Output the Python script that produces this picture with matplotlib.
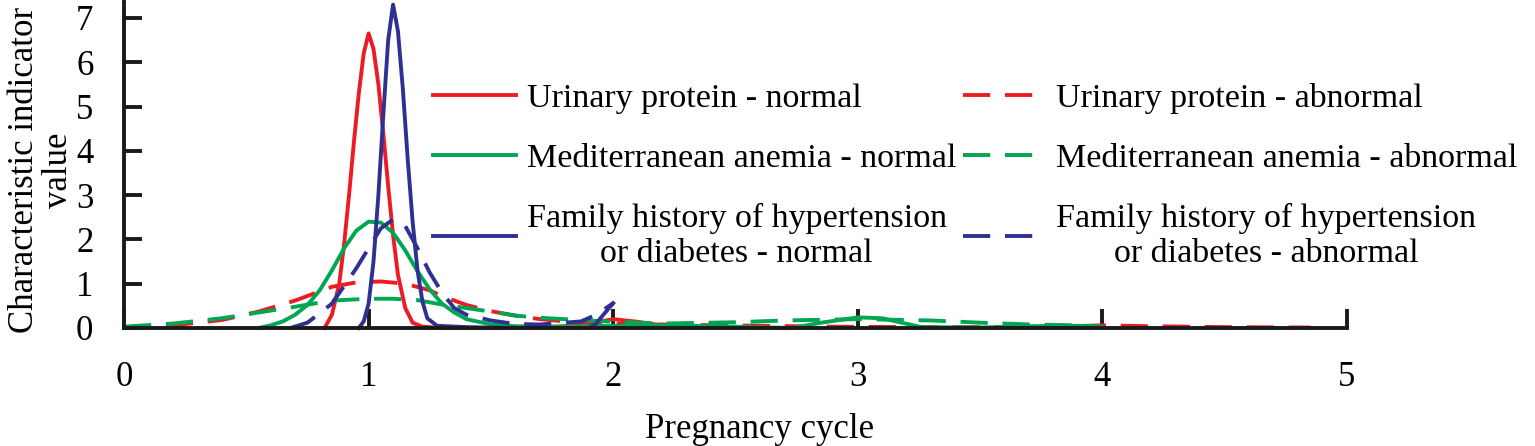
import matplotlib
matplotlib.use("Agg")
import matplotlib.pyplot as plt

plt.rcParams['font.family'] = ['Liberation Serif', 'DejaVu Serif']

x_label = "Pregnancy cycle"
y_label = "Characteristic indicator\nvalue"
x_ticks = [0, 1, 2, 3, 4, 5]
y_ticks = [0, 1, 2, 3, 4, 5, 6, 7]

labels = [
    "Urinary protein - normal",
    "Urinary protein - abnormal",
    "Mediterranean anemia - normal",
    "Mediterranean anemia - abnormal",
    "Family history of hypertension\nor diabetes - normal",
    "Family history of hypertension\nor diabetes - abnormal",
]

# Urinary protein - normal (red solid)
up_n_x = [0.82, 0.85, 0.88, 0.90, 0.92, 0.94, 0.96, 0.98, 1.00, 1.02, 1.04, 1.06, 1.08, 1.10,
          1.12, 1.15, 1.18, 1.22, 1.30, 1.50, 1.70, 1.80, 1.90, 2.00, 2.10, 2.20, 2.30]
up_n_y = [0.00, 0.30, 1.00, 1.90, 3.00, 4.20, 5.30, 6.20, 6.65, 6.30, 5.50, 4.40, 3.20, 2.10,
          1.20, 0.45, 0.12, 0.03, 0.00, 0.00, 0.01, 0.04, 0.10, 0.20, 0.14, 0.06, 0.03]

# Urinary protein - abnormal (red dashed)
up_a_x = [0.00, 0.20, 0.40, 0.55, 0.70, 0.85, 0.95, 1.05, 1.15, 1.25, 1.30, 1.40, 1.50, 1.60,
          1.70, 1.80, 1.90, 2.00, 2.30, 2.60, 2.90, 3.20, 3.50, 3.80, 4.00, 4.20, 4.50, 4.85]
up_a_y = [0.00, 0.06, 0.18, 0.37, 0.62, 0.93, 1.03, 1.05, 1.00, 0.85, 0.72, 0.52, 0.38, 0.28,
          0.20, 0.15, 0.12, 0.10, 0.07, 0.05, 0.03, 0.02, 0.02, 0.03, 0.06, 0.04, 0.02, 0.01]

# Mediterranean anemia - normal (green solid)
ma_n_x = [0.55, 0.60, 0.65, 0.70, 0.75, 0.80, 0.85, 0.90, 0.95, 1.00, 1.05, 1.10, 1.15, 1.20,
          1.25, 1.30, 1.35, 1.40, 1.50, 1.60, 1.80, 2.00, 2.20, 2.50, 2.73, 2.85, 3.00, 3.10,
          3.26, 3.50, 3.70, 3.90, 4.00]
ma_n_y = [0.00, 0.06, 0.15, 0.30, 0.52, 0.85, 1.30, 1.80, 2.20, 2.40, 2.38, 2.15, 1.75, 1.28,
          0.87, 0.55, 0.35, 0.20, 0.08, 0.04, 0.03, 0.05, 0.06, 0.03, 0.00, 0.12, 0.24, 0.22,
          0.02, 0.01, 0.04, 0.05, 0.02]

# Mediterranean anemia - abnormal (green dashed)
ma_a_x = [0.00, 0.20, 0.40, 0.55, 0.70, 0.85, 1.00, 1.10, 1.20, 1.30, 1.40, 1.50, 1.60, 1.70,
          1.80, 1.90, 2.00, 2.20, 2.50, 2.70, 3.00, 3.30, 3.50, 3.70, 3.90, 4.00]
ma_a_y = [0.03, 0.10, 0.22, 0.35, 0.48, 0.62, 0.66, 0.66, 0.63, 0.53, 0.45, 0.37, 0.28, 0.23,
          0.20, 0.17, 0.14, 0.10, 0.13, 0.17, 0.20, 0.17, 0.12, 0.08, 0.06, 0.03]

# Family history of hypertension or diabetes - normal (blue solid)
fh_n_x = [0.96, 0.98, 1.00, 1.02, 1.04, 1.06, 1.08, 1.10, 1.12, 1.14, 1.16, 1.18, 1.20, 1.22,
          1.24, 1.28, 1.40, 1.60, 1.85, 1.90, 1.93, 1.96, 2.00]
fh_n_y = [0.00, 0.15, 0.55, 1.50, 3.00, 4.80, 6.50, 7.30, 6.70, 5.40, 3.80, 2.40, 1.30, 0.60,
          0.22, 0.05, 0.02, 0.00, 0.00, 0.00, 0.10, 0.30, 0.56]

# Family history of hypertension or diabetes - abnormal (blue dashed)
fh_a_x = [0.68, 0.75, 0.85, 0.95, 1.00, 1.05, 1.10, 1.15, 1.20, 1.25, 1.30, 1.35, 1.40, 1.50,
          1.60, 1.70, 1.80, 1.87, 1.93, 2.00]
fh_a_y = [0.00, 0.12, 0.55, 1.35, 1.80, 2.25, 2.45, 2.30, 1.80, 1.25, 0.80, 0.45, 0.30, 0.17,
          0.09, 0.08, 0.12, 0.15, 0.30, 0.56]

RED = "#ED1C24"
GREEN = "#00A651"
BLUE = "#2E3192"

series = [
    (up_n_x, up_n_y, RED, '-'),
    (up_a_x, up_a_y, RED, '--'),
    (ma_n_x, ma_n_y, GREEN, '-'),
    (ma_a_x, ma_a_y, GREEN, '--'),
    (fh_n_x, fh_n_y, BLUE, '-'),
    (fh_a_x, fh_a_y, BLUE, '--'),
]

fig = plt.figure(figsize=(15.35, 4.46), dpi=100)
ax = fig.add_axes([124 / 1535, 118 / 446, (1347 - 124) / 1535, (328 - 2.4) / 446])

lw = 2.8
handles = []
for (xs, ys, c, ls), lab in zip(series, labels):
    if ls == '--':
        ln, = ax.plot(xs, ys, color=c, lw=lw, dashes=(7.0, 3.8), label=lab, clip_on=False)
    else:
        ln, = ax.plot(xs, ys, color=c, lw=lw, label=lab, clip_on=False)
    handles.append(ln)

ax.set_xlim(0, 5)
ax.set_ylim(0, 7.35)
for s in ['top', 'right']:
    ax.spines[s].set_visible(False)
for s in ['left', 'bottom']:
    ax.spines[s].set_linewidth(2.8)
    ax.spines[s].set_color('#1a1a1a')
ax.spines['left'].set_bounds(0, 7.35)
ax.spines['bottom'].set_bounds(0, 5)

ax.set_xticks(x_ticks)
ax.set_yticks(y_ticks)
ax.tick_params(axis='y', direction='in', length=13, width=2.8, pad=22, labelsize=25, color='#1a1a1a')
ax.tick_params(axis='x', direction='in', length=14, width=2.8, pad=24, labelsize=25, color='#1a1a1a')

ax.set_xlabel(x_label, fontsize=25)
ax.xaxis.set_label_coords(0.52, -0.262)
ax.set_ylabel(y_label, fontsize=25, linespacing=1.05)
ax.yaxis.set_label_coords(-0.040, 0.485)

# legend filled row by row (matplotlib fills column-wise)
order = [0, 2, 4, 1, 3, 5]
leg = ax.legend(handles=[handles[i] for i in order], ncol=2, frameon=False, fontsize=24.5,
                loc='upper left', bbox_to_anchor=(433 / 1535, 1 - 83 / 446),
                bbox_transform=fig.transFigure,
                handlelength=2.45, handletextpad=0.3, columnspacing=0.2,
                labelspacing=0.85, borderpad=0, borderaxespad=0)
for t in leg.get_texts():
    t.set_multialignment('center')

fig.savefig("out.png", dpi=100)
